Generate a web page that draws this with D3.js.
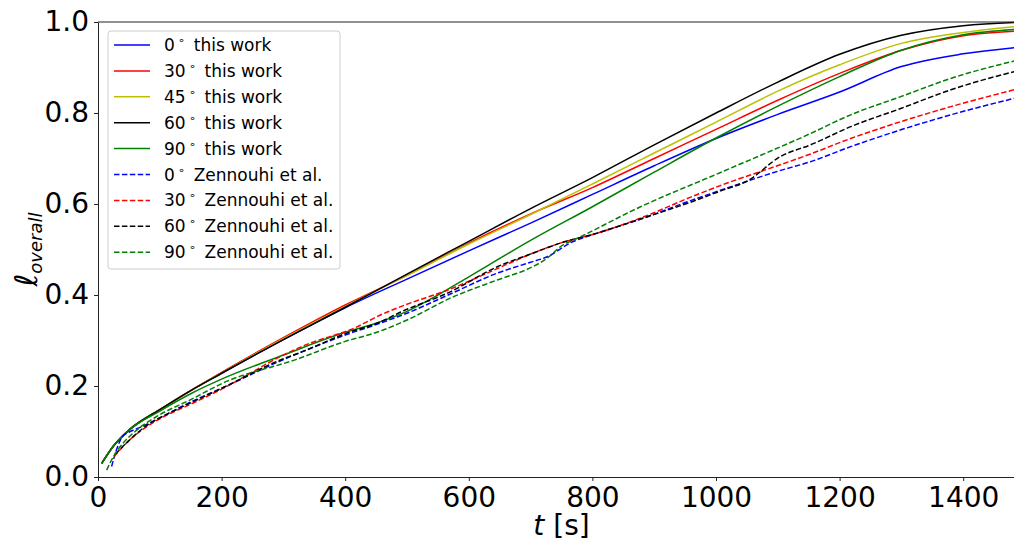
<!DOCTYPE html>
<html>
<head>
<meta charset="utf-8">
<script src="https://cdn.jsdelivr.net/npm/d3@7"></script>
<style>
  body { margin: 0; background: #fff; }
  svg { display: block; font-family: "DejaVu Sans", sans-serif; }
</style>
</head>
<body>
<svg id="chart"></svg>
<script>
const ctx = {
  width: 1014,
  height: 543,
  margin: { top: 22, left: 98, bottom: 66 },
  plotRight: 1025
};

// t values (s) and l_overall
const tWork = [6, 25, 50, 100, 150, 200, 300, 400, 500, 600, 700, 800, 900, 1000, 1100, 1200, 1300, 1400, 1500];
const work0  = [0.03, 0.068, 0.103, 0.148, 0.19, 0.228, 0.302, 0.372, 0.435, 0.497, 0.558, 0.621, 0.684, 0.744, 0.797, 0.846, 0.902, 0.93, 0.946];
const work30 = [0.03, 0.068, 0.103, 0.148, 0.19, 0.23, 0.306, 0.378, 0.443, 0.514, 0.578, 0.636, 0.70, 0.764, 0.828, 0.887, 0.938, 0.97, 0.981];
const work45 = [0.03, 0.068, 0.103, 0.148, 0.19, 0.229, 0.304, 0.375, 0.443, 0.512, 0.577, 0.644, 0.712, 0.78, 0.848, 0.906, 0.953, 0.977, 0.992];
const work60 = [0.03, 0.068, 0.103, 0.148, 0.19, 0.228, 0.302, 0.373, 0.446, 0.518, 0.59, 0.658, 0.73, 0.80, 0.868, 0.929, 0.971, 0.992, 1.0];

const tWork90 = [6, 25, 50, 100, 150, 200, 300, 400, 450, 500, 550, 600, 700, 800, 900, 1000, 1100, 1200, 1300, 1400, 1500];
const work90  = [0.03, 0.068, 0.103, 0.145, 0.183, 0.215, 0.268, 0.318, 0.338, 0.364, 0.40, 0.44, 0.52, 0.594, 0.67, 0.745, 0.815, 0.88, 0.938, 0.972, 0.985];

const zen0 = [[22,0.023],[30,0.06],[40,0.09],[48,0.097],[70,0.11],[100,0.13],[150,0.165],[200,0.195],[300,0.258],[400,0.312],[450,0.335],[500,0.36],[565,0.399],[646,0.448],[700,0.472],[727,0.484],[765,0.515],[808,0.536],[889,0.572],[960,0.608],[1018,0.635],[1100,0.672],[1153,0.693],[1218,0.726],[1299,0.763],[1380,0.796],[1500,0.838]];
const zen30 = [[26,0.045],[50,0.08],[84,0.115],[100,0.128],[150,0.16],[200,0.193],[300,0.268],[330,0.287],[419,0.33],[457,0.356],[489,0.374],[570,0.413],[646,0.458],[700,0.49],[748,0.514],[808,0.536],[889,0.575],[959,0.615],[1018,0.646],[1080,0.675],[1153,0.71],[1218,0.744],[1299,0.781],[1380,0.814],[1500,0.857]];
const zen60 = [[28,0.05],[50,0.08],[84,0.118],[100,0.13],[150,0.163],[200,0.195],[300,0.26],[330,0.275],[400,0.315],[457,0.341],[489,0.362],[570,0.407],[646,0.462],[700,0.49],[748,0.514],[808,0.536],[889,0.572],[959,0.604],[1012,0.631],[1050,0.65],[1105,0.705],[1153,0.73],[1218,0.77],[1299,0.81],[1380,0.851],[1500,0.897]];
const zen90 = [[14,0.015],[25,0.045],[41,0.075],[60,0.1],[95,0.133],[150,0.17],[203,0.207],[320,0.258],[400,0.298],[451,0.318],[500,0.345],[570,0.393],[646,0.433],[700,0.46],[727,0.481],[748,0.506],[781,0.528],[878,0.594],[1000,0.665],[1153,0.755],[1218,0.796],[1299,0.836],[1380,0.876],[1500,0.92]];

const angles = ["0", "30", "45", "60", "90", "0", "30", "60", "90"];
const sources = ["this work", "this work", "this work", "this work", "this work",
                 "Zennouhi et al.", "Zennouhi et al.", "Zennouhi et al.", "Zennouhi et al."];
const colors = ["#0000ff", "#ff0000", "#bfbf00", "#000000", "#008000",
                "#0000ff", "#ff0000", "#000000", "#008000"];

const xTicks = [0, 200, 400, 600, 800, 1000, 1200, 1400];
const yTicks = [0, 0.2, 0.4, 0.6, 0.8, 1.0];

const zip = (ts, vs) => ts.map((t, i) => [t, vs[i]]);

const series = [
  zip(tWork, work0), zip(tWork, work30), zip(tWork, work45), zip(tWork, work60), zip(tWork90, work90),
  zen0, zen30, zen60, zen90
].map((pts, i) => ({
  points: pts, color: colors[i], dashed: i >= 5, angle: angles[i], source: sources[i]
}));

function drawChart() {
  const svg = d3.select("#chart")
    .attr("width", ctx.width)
    .attr("height", ctx.height);

  const bottom = ctx.height - ctx.margin.bottom;

  const x = d3.scaleLinear().domain([0, 1500]).range([ctx.margin.left, ctx.plotRight]);
  const y = d3.scaleLinear().domain([0, 1]).range([bottom, ctx.margin.top]);

  // lines
  const line = d3.line()
    .x(d => x(d[0]))
    .y(d => y(d[1]))
    .curve(d3.curveMonotoneX);

  svg.append("g")
    .selectAll("path")
    .data(series)
    .enter()
    .append("path")
      .attr("d", d => line(d.points))
      .attr("fill", "none")
      .attr("stroke", d => d.color)
      .attr("stroke-width", 1.5)
      .attr("stroke-dasharray", d => d.dashed ? "5.5,2.4" : null);

  // axes
  const xAxis = svg.append("g")
    .attr("transform", `translate(0, ${bottom})`)
    .call(d3.axisBottom(x).tickValues(xTicks).tickFormat(d3.format("d")).tickSize(4).tickPadding(6).tickSizeOuter(0));

  const yAxis = svg.append("g")
    .attr("transform", `translate(${ctx.margin.left}, 0)`)
    .call(d3.axisLeft(y).tickValues(yTicks).tickFormat(d3.format(".1f")).tickSize(4).tickPadding(5).tickSizeOuter(0));

  [xAxis, yAxis].forEach(g => {
    g.select(".domain").attr("stroke", "#222").attr("stroke-width", 1);
    g.selectAll(".tick line").attr("stroke", "#222");
    g.selectAll(".tick text")
      .attr("fill", "#000")
      .style("font-size", "28px")
      .style("font-family", "DejaVu Sans");
  });

  // top spine
  svg.append("line")
    .attr("x1", ctx.margin.left)
    .attr("x2", ctx.plotRight)
    .attr("y1", ctx.margin.top)
    .attr("y2", ctx.margin.top)
    .attr("stroke", "#222")
    .attr("stroke-width", 1);

  // x label
  const xLabel = svg.append("text")
    .attr("x", (ctx.margin.left + ctx.plotRight) / 2)
    .attr("y", 535)
    .attr("text-anchor", "middle")
    .style("font-size", "28px");
  xLabel.append("tspan").style("font-style", "italic").text("t");
  xLabel.append("tspan").text(" [s]");

  // y label
  const yLabel = svg.append("text")
    .attr("transform", `translate(37, ${(ctx.margin.top + bottom) / 2}) rotate(-90)`)
    .attr("text-anchor", "middle");
  yLabel.append("tspan").style("font-size", "31px").style("font-style", "italic").text("ℓ");
  yLabel.append("tspan").attr("dy", 5).style("font-size", "18px").style("font-style", "italic").text("overall");

  drawLegend(svg);
}

function drawLegend(svg) {
  const lg = svg.append("g");

  lg.append("rect")
    .attr("x", 108)
    .attr("y", 31)
    .attr("width", 232)
    .attr("height", 238)
    .attr("rx", 3)
    .attr("fill", "#fff")
    .attr("fill-opacity", 0.8)
    .attr("stroke", "#cccccc")
    .attr("stroke-width", 1);

  const rows = lg.selectAll("g.row")
    .data(series)
    .enter()
    .append("g")
      .attr("class", "row")
      .attr("transform", (d, i) => `translate(0, ${45 + i * 25.9})`);

  rows.append("line")
    .attr("x1", 114)
    .attr("x2", 150)
    .attr("stroke", d => d.color)
    .attr("stroke-width", 1.5)
    .attr("stroke-dasharray", d => d.dashed ? "5.5,2.4" : null);

  const label = rows.append("text")
    .attr("x", 164)
    .attr("y", 6)
    .style("font-size", "17px")
    .attr("fill", "#000");
  label.append("tspan").text(d => d.angle);
  label.append("tspan").attr("dx", 3).attr("dy", -7).style("font-size", "11px").text("∘");
  label.append("tspan").attr("dx", 9).attr("dy", 7).text(d => d.source);
}

drawChart();
</script>
</body>
</html>
